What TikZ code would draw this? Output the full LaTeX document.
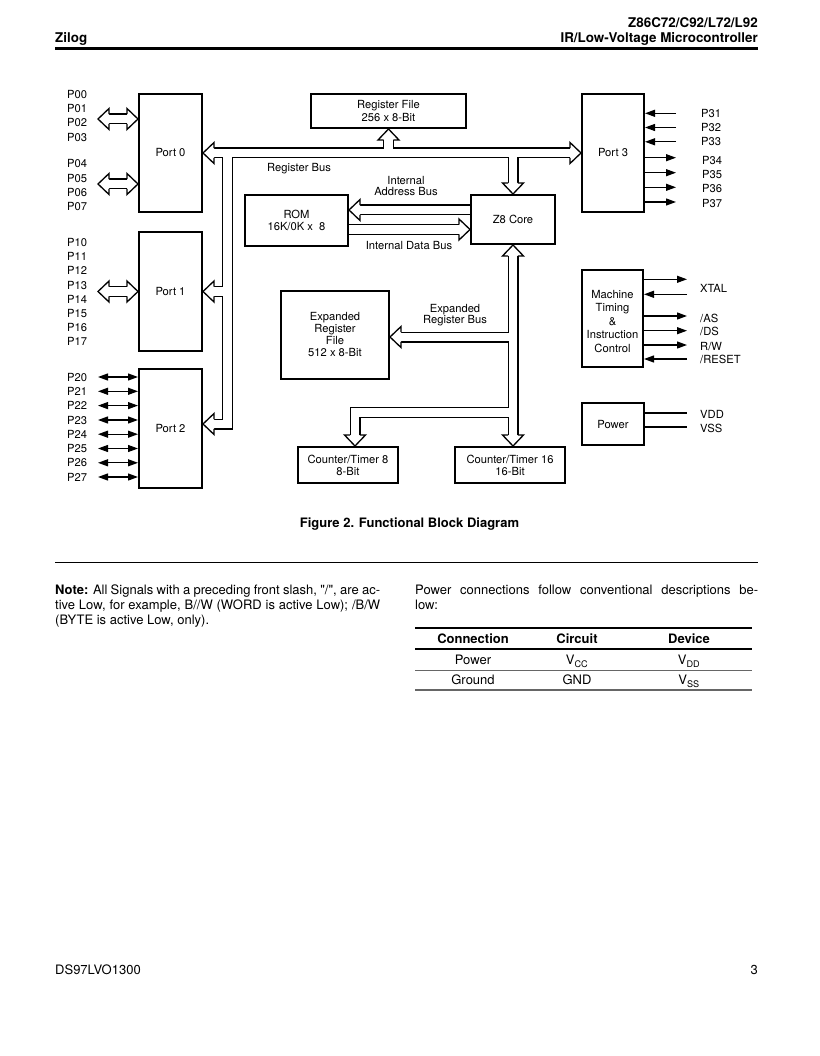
\documentclass[tikz,border=0pt]{standalone}
\usepackage{fontspec}
\setmainfont{TeX Gyre Heros}
\newfontfamily\plainheros{TeX Gyre Heros}
\usetikzlibrary{arrows.meta,calc}
\pgfdeclarelayer{bg}
\pgfsetlayers{bg,main}
\newcommand\dfont{\fontsize{11.2}{12.5}\selectfont}
\newcommand\mtfont{\fontsize{11.2}{13.5}\selectfont}
\newcommand\bodyfont{\fontsize{13}{15}\selectfont}
\newcommand\hdrfont{\fontsize{13.4}{15}\selectfont\bfseries}
\newcommand\hhead[2]{\filldraw[hd,shift={#1},rotate=#2] (-11,4.85) -- (-11,10.5) -- (0,0) -- (-11,-10.5) -- (-11,-4.85);}
\newcommand\buses[1]{%
 \draw[#1] (b0) -- (b3);
 \draw[#1] (jL) -- (jL2) -- (b2);
 \draw[#1] (jL1) -- (b1);
 \draw[#1] (jrf) -- (brf);
 \draw[#1] (jz) -- (bz);
 \draw[#1] (sa) -- (ba);
 \draw[#1] (sd) -- (bd);
 \draw[#1] (bzs) -- (b16);
 \draw[#1] (jerf) -- (berf);
 \draw[#1] (jct) -- (kct) -- (b8);
 \draw[#1] (q0aL) -- (q0aR);
 \draw[#1] (q0bL) -- (q0bR);
 \draw[#1] (q1L) -- (q1R);
}
\begin{document}
\begin{tikzpicture}[x=1pt,y=-1pt,
  box/.style={draw,line width=2pt,inner sep=0pt,align=center,font=\dfont},
  lbl/.style={inner sep=0pt,font=\dfont},
  body/.style={inner sep=0pt,font=\bodyfont},
  bo/.style={line width=11pt,black},
  bi/.style={line width=8.4pt,white},
  hd/.style={fill=white,draw=black,line width=1.3pt,line join=miter},
  sig/.style={line width=1.2pt},
  tip/.style={-{Triangle[length=10pt,width=7pt]}},
  dtip/.style={{Triangle[length=10pt,width=7pt]}-{Triangle[length=10pt,width=7pt]}}
]
\useasboundingbox (0,0) rectangle (819,1056);

% ---------- header ----------
\node[inner sep=0pt,font=\hdrfont,anchor=base east] (h1) at (758,27.7) {Z86C72/C92/L72/L92};
\node[inner sep=0pt,font=\hdrfont,anchor=base west] (h2) at (55,42.5) {Zilog};
\node[inner sep=0pt,font=\hdrfont,anchor=base east] (h3) at (758,42.5) {IR/Low-Voltage Microcontroller};
\coordinate (hr1) at (55,48.5);
\coordinate (hr2) at (758,48.5);
\draw[line width=3pt] (hr1) -- (hr2);

% ---------- boxes ----------
\node[box,minimum width=63pt,minimum height=118pt] (p0) at (170.5,153) {Port 0};
\node[box,minimum width=63pt,minimum height=119pt] (p1) at (170.5,291.5) {Port 1};
\node[box,minimum width=63pt,minimum height=119pt] (p2) at (170.5,428.5) {Port 2};
\node[box,minimum width=62pt,minimum height=118pt] (p3) at (613,153) {Port 3};
\node[box,minimum width=155pt,minimum height=34pt] (rf) at (388.5,111) {Register File\\256 x 8-Bit};
\node[box,minimum width=103pt,minimum height=51pt] (rom) at (296.5,220.5) {ROM\\16K/0K x~~8};
\node[box,minimum width=84pt,minimum height=49pt] (z8) at (513,219.5) {Z8 Core};
\node[box,minimum width=108pt,minimum height=88pt,font=\fontsize{11.2}{12}\selectfont] (erf) at (335,335) {Expanded\\Register\\File\\512 x 8-Bit};
\node[box,minimum width=100pt,minimum height=36pt,font=\fontsize{11.2}{12}\selectfont] (ct8) at (348,465) {Counter/Timer 8\\8-Bit};
\node[box,minimum width=110pt,minimum height=36pt,font=\fontsize{11.2}{12}\selectfont] (ct16) at (510,465) {Counter/Timer 16\\16-Bit};
\node[box,minimum width=61pt,minimum height=97pt] (mt) at (612.5,318.5) {};
\node[lbl,align=center,font=\mtfont] (mtt) at (612.5,321.5) {Machine\\Timing\\\&\\Instruction\\Control};
\node[box,minimum width=62pt,minimum height=42pt] (pw) at (613,424) {Power};

% ---------- bus coordinates ----------
\coordinate (t0) at (p0.east);
\coordinate (b0) at ($(t0)+(11,0)$);
\coordinate (t3) at (p3.west);
\coordinate (b3) at ($(t3)+(-11,0)$);
\coordinate (jL) at (227.5,153);
\coordinate (t1) at (p1.east);
\coordinate (b1) at ($(t1)+(11,0)$);
\coordinate (jL1) at (jL |- t1);
\coordinate (t2) at ($(p2.east)+(0,-4.5)$);
\coordinate (b2) at ($(t2)+(11,0)$);
\coordinate (jL2) at (jL |- t2);
\coordinate (trf) at (rf.south);
\coordinate (brf) at ($(trf)+(0,11)$);
\coordinate (jrf) at (trf |- jL);
\coordinate (tz) at (z8.north);
\coordinate (bz) at ($(tz)+(0,-11)$);
\coordinate (jz) at (tz |- jL);
\coordinate (sa) at ($(z8.west)+(0,-9.5)$);
\coordinate (ta) at (sa -| rom.east);
\coordinate (ba) at ($(ta)+(11,0)$);
\coordinate (sd) at ($(rom.east)+(0,9)$);
\coordinate (td) at (sd -| z8.west);
\coordinate (bd) at ($(td)+(-11,0)$);
\coordinate (tzs) at (z8.south);
\coordinate (bzs) at ($(tzs)+(0,11)$);
\coordinate (t16) at (tzs |- ct16.north);
\coordinate (b16) at ($(t16)+(0,-11)$);
\coordinate (terf) at ($(erf.east)+(0,2)$);
\coordinate (berf) at ($(terf)+(11,0)$);
\coordinate (jerf) at (tzs |- terf);
\coordinate (t8) at ($(ct8.north)+(7,0)$);
\coordinate (b8) at ($(t8)+(0,-11)$);
\coordinate (jct) at ($(tzs)+(0,167.5)$);
\coordinate (kct) at (t8 |- jct);
% port external buses
\coordinate (q0aT) at (98,119);   \coordinate (q0aU) at (138,119);
\coordinate (q0aL) at (109,119);  \coordinate (q0aR) at (127,119);
\coordinate (q0bT) at (98,184);   \coordinate (q0bU) at (138,184);
\coordinate (q0bL) at (109,184);  \coordinate (q0bR) at (127,184);
\coordinate (q1T) at (98,291.5);  \coordinate (q1U) at (138,291.5);
\coordinate (q1L) at (109,291.5); \coordinate (q1R) at (127,291.5);

\begin{pgfonlayer}{bg}
\buses{bo}
\buses{bi}
\hhead{(t0)}{180} \hhead{(t3)}{0} \hhead{(t1)}{180} \hhead{(t2)}{180}
\hhead{(trf)}{90} \hhead{(tz)}{270} \hhead{(ta)}{180} \hhead{(td)}{0}
\hhead{(tzs)}{90} \hhead{(t16)}{270} \hhead{(terf)}{180} \hhead{(t8)}{270}
\hhead{(q0aT)}{180} \hhead{(q0aU)}{0}
\hhead{(q0bT)}{180} \hhead{(q0bU)}{0}
\hhead{(q1T)}{180} \hhead{(q1U)}{0}
\end{pgfonlayer}

% ---------- bus labels ----------
\node[lbl,anchor=base west] (lrb) at (267,172) {Register Bus};
\node[lbl,anchor=base] (lia1) at (406,185) {Internal};
\node[lbl,anchor=base] (lia2) at (406,196) {Address Bus};
\node[lbl,anchor=base] (lid) at (409,250) {Internal Data Bus};
\node[lbl,anchor=base] (ler1) at (455,312.7) {Expanded};
\node[lbl,anchor=base] (ler2) at (455,323.5) {Register Bus};

% ---------- port pin labels ----------
\foreach \n/\y in {0/99,1/113,2/127,3/142,4/168,5/183,6/197,7/211}
  \node[lbl,anchor=base west] (lp0\n) at (67,\y) {P0\n};
\foreach \n/\y in {0/246.3,1/260.7,2/274.7,3/289,4/303,5/317.3,6/331.7,7/345.7}
  \node[lbl,anchor=base west] (lp1\n) at (67,\y) {P1\n};
\foreach \n/\y in {0/377,1/391.3,2/405.6,3/420,4/434.2,5/448.5,6/462.8,7/477} {
  \node[lbl,anchor=base west] (lp2\n) at (67,\y+4) {P2\n};
  \coordinate (s2\n) at (98,\y);
  \draw[sig,dtip] (s2\n) -- (s2\n -| p2.west);
}
% Port 3 pins
\foreach \n/\y/\ly in {1/113.3/117.3,2/127.5/131.7,3/141.8/146} {
  \coordinate (s3\n) at (676,\y);
  \draw[sig,tip] (s3\n) -- (s3\n -| p3.east);
  \node[lbl,anchor=base west] (lp3\n) at (701,\ly) {P3\n};
}
\foreach \n/\y/\ly in {4/157.7/164.3,5/172.7/179,6/187.3/193,7/202/207.3} {
  \coordinate (s3\n) at (676,\y);
  \draw[sig,tip] (s3\n -| p3.east) -- (s3\n);
  \node[lbl,anchor=base west] (lp3\n) at (702,\ly) {P3\n};
}
% machine timing signals
\coordinate (xo) at (687,279.3);
\coordinate (xi) at (687,294.3);
\coordinate (aso) at (687,316);
\coordinate (dso) at (687,330.7);
\coordinate (rwo) at (687,345);
\coordinate (rsi) at (687,359);
\draw[sig,tip] (xo -| mt.east) -- (xo);
\draw[sig,tip] (xi) -- (xi -| mt.east);
\draw[sig,tip] (aso -| mt.east) -- (aso);
\draw[sig,tip] (dso -| mt.east) -- (dso);
\draw[sig,tip] (rwo -| mt.east) -- (rwo);
\draw[sig,tip] (rsi) -- (rsi -| mt.east);
\node[lbl,anchor=base west] (lx) at (700,292.3) {XTAL};
\node[lbl,anchor=base west] (las) at (700,322.3) {/AS};
\node[lbl,anchor=base west] (lds) at (700,335.7) {/DS};
\node[lbl,anchor=base west] (lrw) at (700,350) {R/W};
\node[lbl,anchor=base west] (lrs) at (700,363.3) {/RESET};
% power
\coordinate (vd) at (687,413);
\coordinate (vs) at (687,427);
\draw[sig] (vd -| pw.east) -- (vd);
\draw[sig] (vs -| pw.east) -- (vs);
\node[lbl,anchor=base west] (lvd) at (700,418) {VDD};
\node[lbl,anchor=base west] (lvs) at (700,432.3) {VSS};

% ---------- caption ----------
\node[inner sep=0pt,font=\bodyfont\bfseries,anchor=base] (cap) at (409.5,527.6) {Figure 2. Functional Block Diagram};
\coordinate (cr1) at (55,562);
\coordinate (cr2) at (758,562);
\draw[line width=1pt] (cr1) -- (cr2);

% ---------- note ----------
\node[body,anchor=base west] (n1) at (55,594.5) {\makebox[325pt][s]{\textbf{Note:} All Signals with a preceding front slash, {\plainheros "/"}, are ac-}};
\node[body,anchor=base west] (n2) at (55,609.5) {\makebox[325pt][s]{tive Low, for example, B//W (WORD is active Low); /B/W}};
\node[body,anchor=base west] (n3) at (55,624.5) {(BYTE is active Low, only).};
\node[body,anchor=base west] (r1) at (415,594.5) {\makebox[343pt][s]{Power connections follow conventional descriptions be-}};
\node[body,anchor=base west] (r2) at (415,609.5) {low:};

% ---------- table ----------
\coordinate (tl1) at (415,628); \coordinate (tr1) at (752,628);
\coordinate (tl2) at (415,649); \coordinate (tr2) at (752,649);
\coordinate (tl3) at (415,670); \coordinate (tr3) at (752,670);
\coordinate (tl4) at (415,690); \coordinate (tr4) at (752,690);
\draw[line width=1.6pt] (tl1) -- (tr1);
\draw[line width=1.2pt] (tl2) -- (tr2);
\draw[line width=0.8pt,black!60] (tl3) -- (tr3);
\draw[line width=1.3pt,black!60] (tl4) -- (tr4);
\node[body,font=\bodyfont\bfseries,anchor=base] (th1) at (473,643.6) {Connection};
\node[body,font=\bodyfont\bfseries,anchor=base] (th2) at (577,643.6) {Circuit};
\node[body,font=\bodyfont\bfseries,anchor=base] (th3) at (689,643.6) {Device};
\node[body,anchor=base] (c11) at (473,664.6) {Power};
\node[body,anchor=base] (c12) at (577,664.6) {V\textsubscript{CC}};
\node[body,anchor=base] (c13) at (689,664.6) {V\textsubscript{DD}};
\node[body,anchor=base] (c21) at (473,684.6) {Ground};
\node[body,anchor=base] (c22) at (577,684.6) {GND};
\node[body,anchor=base] (c23) at (689,684.6) {V\textsubscript{SS}};

% ---------- footer ----------
\node[body,anchor=base west] (f1) at (55,974.6) {DS97LVO1300};
\node[body,anchor=base east] (f2) at (758,974.6) {3};
\end{tikzpicture}
\end{document}
